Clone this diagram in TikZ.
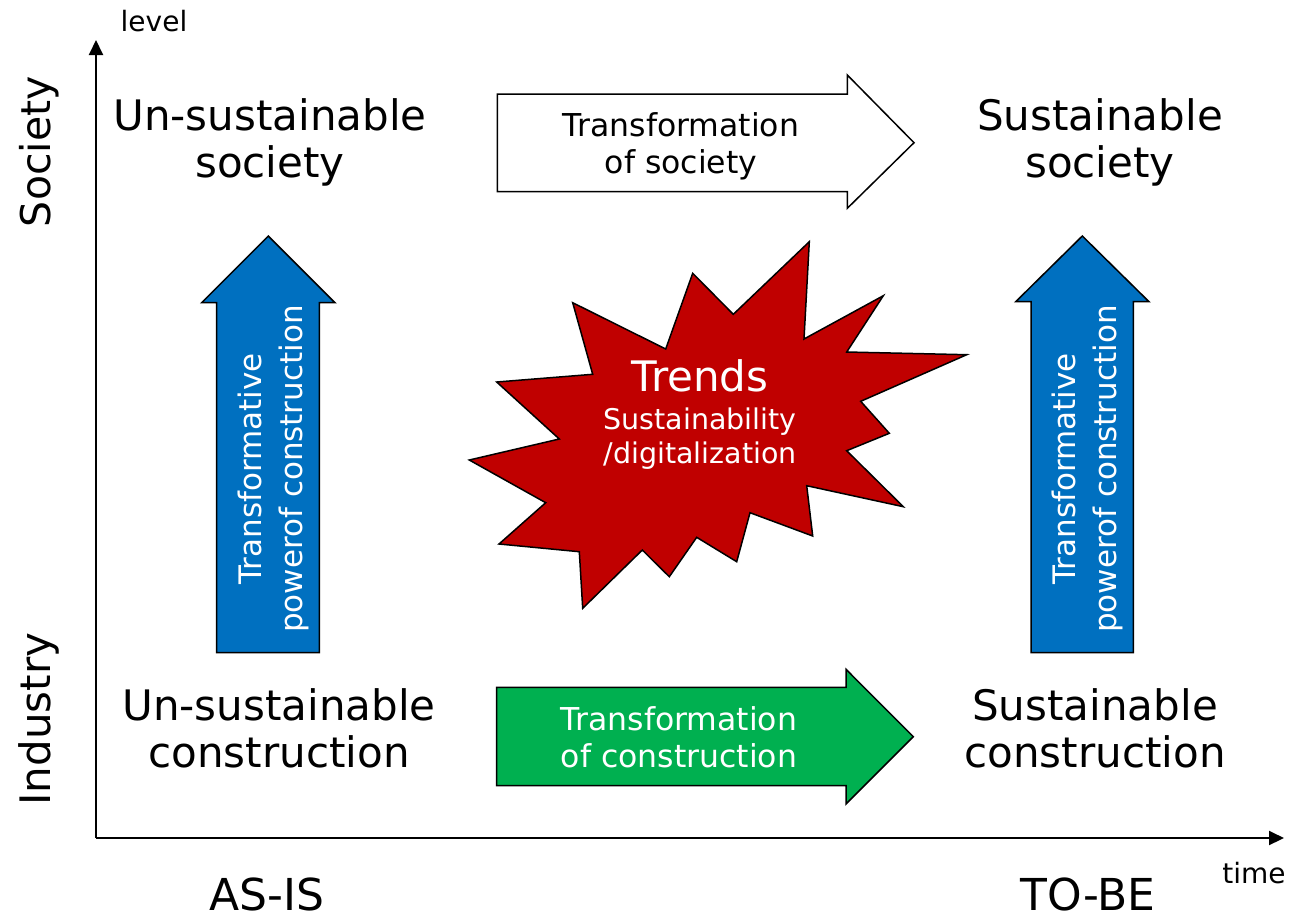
\documentclass[tikz,border=0pt]{standalone}
\usepackage{fontspec}
\setmainfont{DejaVu Sans}
\usetikzlibrary{arrows.meta}
\definecolor{myblue}{HTML}{0070C0}
\definecolor{mygreen}{HTML}{00B050}
\definecolor{myred}{HTML}{C00000}
\begin{document}
\begin{tikzpicture}[x=1pt,y=-1pt,
  biglabel/.style={font=\fontsize{42}{47}\selectfont, align=center, inner sep=0pt},
  midlabel/.style={font=\fontsize{31.5}{37}\selectfont, align=center, inner sep=0pt},
  vlabel/.style={font=\fontsize{31}{41}\selectfont, align=center, inner sep=0pt, rotate=90, text=white},
  smalllabel/.style={font=\fontsize{28}{34}\selectfont, inner sep=0pt},
  shapeline/.style={draw=black, line width=1.5pt, line join=miter},
  axis/.style={line width=2pt, -{Triangle[length=15pt,width=14pt]}}]
\useasboundingbox (0,0) rectangle (1292,922);

% axes
\coordinate (O) at (96,838);
\coordinate (ytip) at (96,40);
\coordinate (xtip) at (1284,838);
\draw[axis] (O) -- (ytip);
\draw[axis] (O) -- (xtip);
\node[smalllabel, anchor=base] (level) at (154,31.7) {level};
\node[smalllabel, anchor=base] (time) at (1254,883.3) {time};
\node[font=\fontsize{41}{47}\selectfont, inner sep=0pt, rotate=90, anchor=base] (society) at (50,151.7) {Society};
\node[font=\fontsize{42}{47}\selectfont, inner sep=0pt, rotate=90, anchor=base] (industry) at (50,719) {Industry};
\node[font=\fontsize{44}{50}\selectfont, inner sep=0pt, anchor=base] (asis) at (267,910) {AS-IS};
\node[font=\fontsize{44}{50}\selectfont, inner sep=0pt, anchor=base] (tobe) at (1088,910) {TO-BE};

% corner labels
\node[biglabel] (uss) at (270,142.5) {Un-sustainable\\society};
\node[biglabel] (ss) at (1100,142.5) {Sustainable\\society};
\node[biglabel] (usc) at (279,728) {Un-sustainable\\construction};
\node[biglabel] (sc) at (1095,728) {Sustainable\\construction};

% transformation of society (white arrow)
\draw[shapeline, fill=white] (497.3,94) -- (847.3,94) -- (847.3,75) -- (914,142.7)
  -- (847.3,208.3) -- (847.3,191.7) -- (497.3,191.7) -- cycle;
\node[midlabel] (tsoc) at (681,146.7) {Transformation\\of society};

% transformation of construction (green arrow)
\draw[shapeline, fill=mygreen] (496.7,687.3) -- (846,687.3) -- (846,669.3) -- (913.3,736.7)
  -- (846,804) -- (846,785.7) -- (496.7,785.7) -- cycle;
\node[midlabel, text=white] (tcon) at (679,737) {Transformation\\of construction};

% blue arrows
\draw[shapeline, fill=myblue] (216.7,652.7) -- (216.7,302.7) -- (201.7,302.7) -- (268.3,236)
  -- (335,302.7) -- (319.3,302.7) -- (319.3,652.7) -- cycle;
\node[vlabel] (tpl) at (273,469) {Transformative\\powerof construction};
\draw[shapeline, fill=myblue] (1031,652.7) -- (1031,301.7) -- (1015.7,301.7) -- (1082.3,236)
  -- (1149,301.7) -- (1133.3,301.7) -- (1133.3,652.7) -- cycle;
\node[vlabel] (tpr) at (1087,469) {Transformative\\powerof construction};

% star
\draw[shapeline, fill=myred]
  (809.3,241.7) -- (804,339) -- (883.3,295.7) -- (846.7,352) -- (966.7,354.7)
  -- (860.7,401.3) -- (889.3,433.3) -- (846.7,450.7) -- (903.3,506.7) -- (806.7,485.7)
  -- (812.7,536) -- (750,512.7) -- (736.7,561.7) -- (696.7,537.3) -- (669.3,576.7)
  -- (642.3,550) -- (582.7,608.3) -- (579.3,551.7) -- (499,544) -- (545.7,502.7)
  -- (469.3,460) -- (559.3,439) -- (496.7,382) -- (592.7,374.3) -- (572.7,302.7)
  -- (665.7,349) -- (692.7,273.3) -- (733.3,314.3) -- cycle;
\node[font=\fontsize{42}{47}\selectfont, inner sep=0pt, text=white, anchor=base] (trends) at (700,391.7) {Trends};
\node[font=\fontsize{28.5}{34}\selectfont, align=center, inner sep=0pt, text=white] (sust) at (700,438.8) {Sustainability\\/digitalization};
\end{tikzpicture}
\end{document}
